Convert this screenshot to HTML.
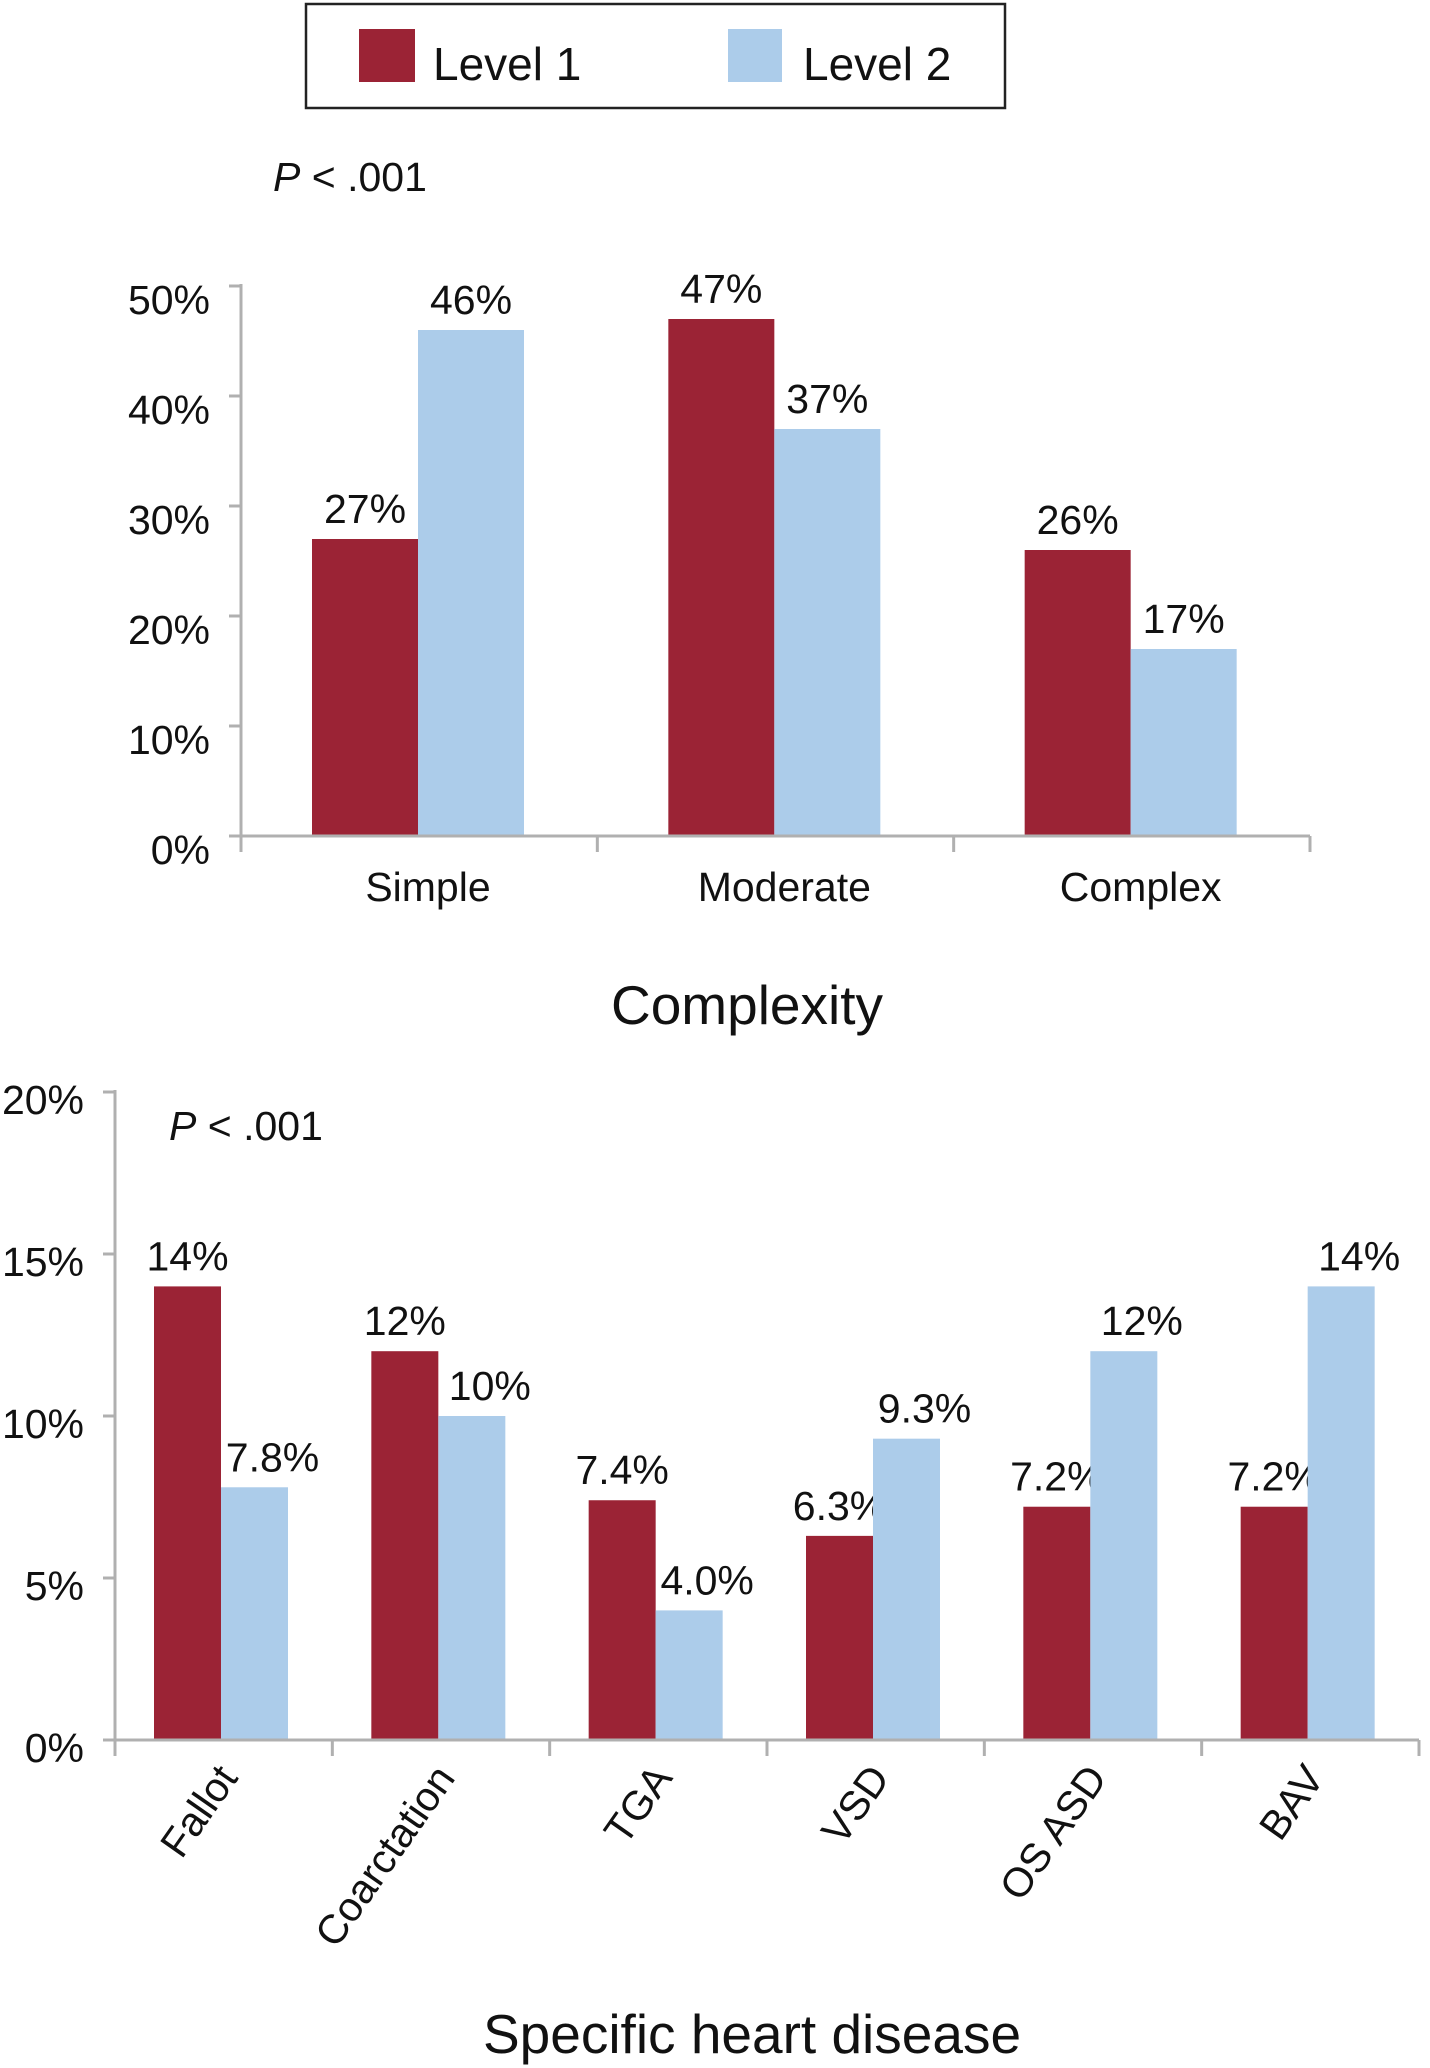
<!DOCTYPE html>
<html><head><meta charset="utf-8"><style>
body{margin:0;background:#fff}
svg{display:block;font-family:"Liberation Sans",Arial,sans-serif}
</style></head><body>
<svg id="c" width="1430" height="2068" viewBox="0 0 1430 2068" xmlns="http://www.w3.org/2000/svg">
<g>
<rect x="306" y="4" width="699" height="104" fill="#fff" stroke="#222" stroke-width="2.5"/>
<rect x="359" y="29" width="56" height="53" fill="#9b2335"/>
<text x="433" y="80" font-size="46" fill="#111">Level 1</text>
<rect x="728" y="29" width="54" height="53" fill="#acccea"/>
<text x="803" y="80" font-size="46" fill="#111">Level 2</text>
</g>
<g id="g1"></g>
<g id="g2"></g>
</svg>
<script>
const cats1 = ["Simple","Moderate","Complex"];
const lvl1a = [27,47,26];
const lvl2a = [46,37,17];
const lab1a = ["27%","47%","26%"];
const lab2a = ["46%","37%","17%"];
const ticks1 = [0,10,20,30,40,50];

const cats2 = ["Fallot","Coarctation","TGA","VSD","OS ASD","BAV"];
const lvl1b = [14,12,7.4,6.3,7.2,7.2];
const lvl2b = [7.8,10,4.0,9.3,12,14];
const lab1b = ["14%","12%","7.4%","6.3%","7.2%","7.2%"];
const lab2b = ["7.8%","10%","4.0%","9.3%","12%","14%"];
const ticks2 = [0,5,10,15,20];

const NS="http://www.w3.org/2000/svg";
function mk(parent,tag,attrs,txt){const e=document.createElementNS(NS,tag);for(const k in attrs)e.setAttribute(k,attrs[k]);if(txt!==undefined)e.textContent=txt;parent.appendChild(e);return e;}

function draw(g,o){
  const y=v=>o.y0-(v-o.min)/(o.max-o.min)*(o.y0-o.yTop);
  const gw=(o.x1-o.x0)/o.cats.length;
  const ax=mk(g,'line',{x1:o.x0,y1:y(o.max)-2,x2:o.x0,y2:o.y0+14,stroke:'#b0b0b0','stroke-width':3});
  
  
  o.ticks.forEach(t=>{
    const tl=mk(g,'line',{x1:o.x0-12,y1:y(t),x2:o.x0,y2:y(t),stroke:'#b0b0b0','stroke-width':3});
    
    
    const tx=mk(g,'text',{x:o.tickX,y:y(t)+o.tickDy,'font-size':o.fs,'text-anchor':'end',fill:'#111'},t+'%');
    
    
  });
  o.cats.forEach((c,i)=>{
    const gx=o.x0+i*gw;
    const bx=gx+o.off;
    [[o.a,o.la,'#9b2335',0],[o.b,o.lb,'#acccea',1]].forEach(([arr,lab,col,k])=>{
      const x=bx+k*o.bw, top=y(arr[i]);
      const r=mk(g,'rect',{x:x,y:top,width:o.bw,height:o.y0-top,fill:col});
      
      
      const t=mk(g,'text',{x:x+o.bw/2+(k?o.lblShift:0),y:top-16,'font-size':o.fs,'text-anchor':'middle',fill:'#111'},lab[i]);
      
      
    });
  });
  const xa=mk(g,'line',{x1:o.x0,y1:o.y0,x2:o.x1,y2:o.y0,stroke:'#b0b0b0','stroke-width':3});
  
  
  for(let i=0;i<=o.cats.length;i++){
    const xt=mk(g,'line',{x1:o.x0+i*gw,y1:o.y0,x2:o.x0+i*gw,y2:o.y0+16,stroke:'#b0b0b0','stroke-width':3});
    
    
  }
  o.cats.forEach((c,i)=>{
    const cx=o.x0+i*gw+o.off+o.bw;
    let t;
    if(o.rot){
      const lx=cx+18, ly=o.y0+38;
      t=mk(g,'text',{x:lx,y:ly,'font-size':o.fs,'text-anchor':'end',fill:'#111',transform:`rotate(-55 ${lx} ${ly})`},c);
    } else {
      t=mk(g,'text',{x:cx+10,y:o.y0+65,'font-size':o.fs,'text-anchor':'middle',fill:'#111'},c);
    }
    
    
  });
  const p=mk(g,'text',{x:o.pX,y:o.pY,'font-size':o.fs,fill:'#111'});
  
  
  mk(p,'tspan',{'font-style':'italic'},'P');
  mk(p,'tspan',{},' < .001');
  const ti=mk(g,'text',{x:o.titleX,y:o.titleY,'font-size':55,'text-anchor':'middle',fill:'#111'},o.title);
  
  
}
draw(document.getElementById('g1'),{p:'complexity-',cats:cats1,a:lvl1a,b:lvl2a,la:lab1a,lb:lab2a,ticks:ticks1,min:0,max:50,
  x0:241,x1:1310,y0:836,yTop:286,off:71,bw:106,fs:41,tickX:210,tickDy:28,lblShift:0,rot:false,pX:273,pY:191,title:'Complexity',titleX:747,titleY:1024});
draw(document.getElementById('g2'),{p:'disease-',cats:cats2,a:lvl1b,b:lvl2b,la:lab1b,lb:lab2b,ticks:ticks2,min:0,max:20,
  x0:115,x1:1419,y0:1740,yTop:1092,off:39,bw:67,fs:41,tickX:84,tickDy:22,lblShift:18,rot:true,pX:169,pY:1140,title:'Specific heart disease',titleX:752,titleY:2053});
</script>
</body></html>
